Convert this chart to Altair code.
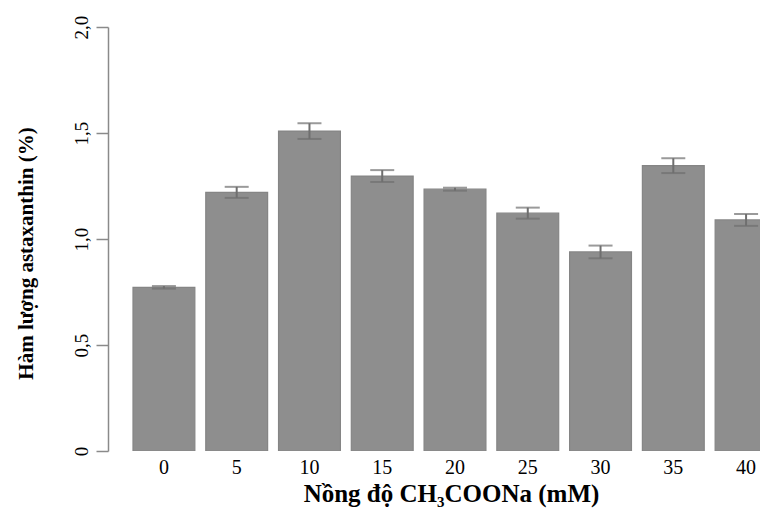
import altair as alt
import pandas as pd

concentrations = ["0", "5", "10", "15", "20", "25", "30", "35", "40"]
astaxanthin = [0.772, 1.220, 1.509, 1.297, 1.235, 1.122, 0.939, 1.346, 1.090]
errors = [0.006, 0.026, 0.037, 0.028, 0.007, 0.026, 0.030, 0.035, 0.028]

df = pd.DataFrame({"conc": concentrations, "val": astaxanthin, "err": errors})
df["lo"] = df["val"] - df["err"]
df["hi"] = df["val"] + df["err"]

FONT = "Liberation Serif"

xscale = alt.Scale(domain=concentrations, range=[25, 669], paddingInner=0.15, paddingOuter=0)
yscale = alt.Scale(domain=[0, 2])

xenc = alt.X(
    "conc:N", scale=xscale, sort=concentrations,
    axis=alt.Axis(
        title="Nồng độ CH₃COONa (mM)", domain=False, ticks=False, tickSize=0, grid=False,
        labelAngle=0, labelPadding=22, labelBaseline="alphabetic",
        labelFont=FONT, labelFontSize=20, labelColor="black",
        titleFont=FONT, titleFontSize=25, titleFontWeight="bold", titleColor="black",
        titleX=343, titleY=50, titleAlign="center", titleBaseline="alphabetic",
    ),
)

yaxis = alt.Axis(
    title="Hàm lượng astaxanthin (%)", values=[0, 0.5, 1, 1.5, 2], grid=False,
    labelExpr="datum.value == 0 ? '0' : replace(format(datum.value, '.1f'), '.', ',')",
    labelAngle=270, labelPadding=5, labelFont=FONT, labelFontSize=19, labelColor="black",
    domainColor="#8a8a8a", domainWidth=1.5, tickColor="#8a8a8a", tickWidth=1.5, tickSize=12,
    titleFont=FONT, titleFontSize=21, titleFontWeight="bold", titleColor="black",
    titleX=-76, titleY=226, titleAlign="center", titleBaseline="alphabetic", titleAngle=270,
)

base = alt.Chart(df)

bars = base.mark_bar(color="#8e8e8e", stroke="#858585", strokeWidth=1.2, clip=True).encode(
    x=xenc,
    y=alt.Y("val:Q", scale=yscale, axis=yaxis),
)

xplain = alt.X("conc:N", scale=xscale, sort=concentrations)

stems = base.mark_rule(color="#6f6f6f", strokeWidth=2, clip=True).encode(
    x=xplain,
    y=alt.Y("lo:Q", scale=yscale),
    y2="hi:Q",
)

caps_hi = base.mark_tick(color="#6f6f6f", size=24, thickness=2, clip=True).encode(
    x=xplain,
    y=alt.Y("hi:Q", scale=yscale),
)
caps_lo = base.mark_tick(color="#6f6f6f", size=24, thickness=2, clip=True).encode(
    x=xplain,
    y=alt.Y("lo:Q", scale=yscale),
)

chart = alt.layer(bars, stems, caps_hi, caps_lo).properties(
    width=652, height=424,
    background="white",
    padding={"left": 100, "top": 19, "right": 0, "bottom": 58},
    autosize=alt.AutoSizeParams(type="none"),
).configure_view(stroke=None, strokeWidth=0).configure_axis(grid=False)

chart.save("out.html", embed_options={"renderer": "svg", "actions": False})
